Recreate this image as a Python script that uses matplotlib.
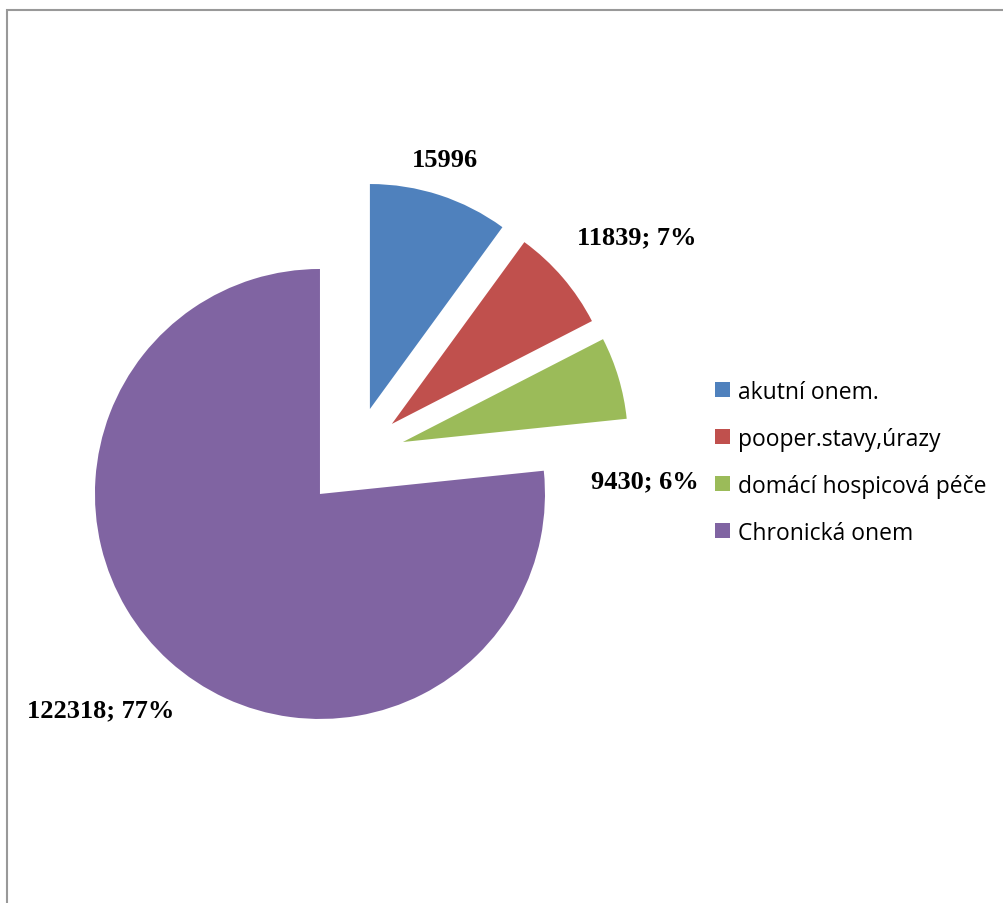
import numpy as np
import matplotlib
matplotlib.use("Agg")
import matplotlib.pyplot as plt
from matplotlib.patches import Rectangle

categories = ["akutní onem.", "pooper.stavy,úrazy", "domácí hospicová péče", "Chronická onem"]
values = [15996, 11839, 9430, 122318]
label_texts = ["15996", "11839; 7%", "9430; 6%", "122318; 77%"]

colors = ["#4F81BD", "#C0504D", "#9BBB59", "#8064A2"]
# explosion distance (in radii) and direction nudge (deg) for each slice
exp_dist = [0.438, 0.446, 0.435, 0.0]
exp_shift = [-12.4, 3.7, 15.5, 0.0]
# label distance (in radii) and angular nudge (deg) for each data label
lab_dist = [1.16, 1.37, 1.09, 1.37]
lab_shift = [1.3, -3.1, -25.6, -3.4]

fig = plt.figure(figsize=(10.04, 9.04), dpi=100)
ax = fig.add_axes([0, 0, 1, 1])

wedges, _ = ax.pie(values, colors=colors, startangle=90,
                   counterclock=False, radius=1.0,
                   wedgeprops=dict(linewidth=0, antialiased=True))

for w, txt, ed, es, d, s in zip(wedges, label_texts, exp_dist, exp_shift,
                                lab_dist, lab_shift):
    mid = (w.theta1 + w.theta2) / 2
    ea = np.deg2rad(mid + es)
    cx, cy = ed * np.cos(ea), ed * np.sin(ea)
    w.set_center((cx, cy))
    ang = np.deg2rad(mid + s)
    ax.text(cx + d * np.cos(ang), cy + d * np.sin(ang), txt,
            ha="center", va="center", fontsize=19, fontweight="bold",
            family="Liberation Serif", color="black")

ax.set_xlim(-1.422, 3.04)
ax.set_ylim(-1.818, 2.2)
ax.set_aspect("auto")
ax.axis("off")

leg = ax.legend(wedges, categories, loc="center left",
                bbox_to_anchor=(0.712, 0.4875), bbox_transform=fig.transFigure,
                frameon=False, borderpad=0, borderaxespad=0,
                prop=dict(family="Open Sans", size=16.5),
                handlelength=0.66, handleheight=0.62, handletextpad=0.34,
                labelspacing=1.0)

# outer chart frame (runs off the right and bottom edges)
fig.patches.append(Rectangle((7.5 / 1004, -0.05), 1.2, 1 + 0.05 - 10.5 / 904,
                             transform=fig.transFigure, fill=False,
                             edgecolor="#999999", linewidth=1.5))

fig.savefig("out.png", dpi=100)
